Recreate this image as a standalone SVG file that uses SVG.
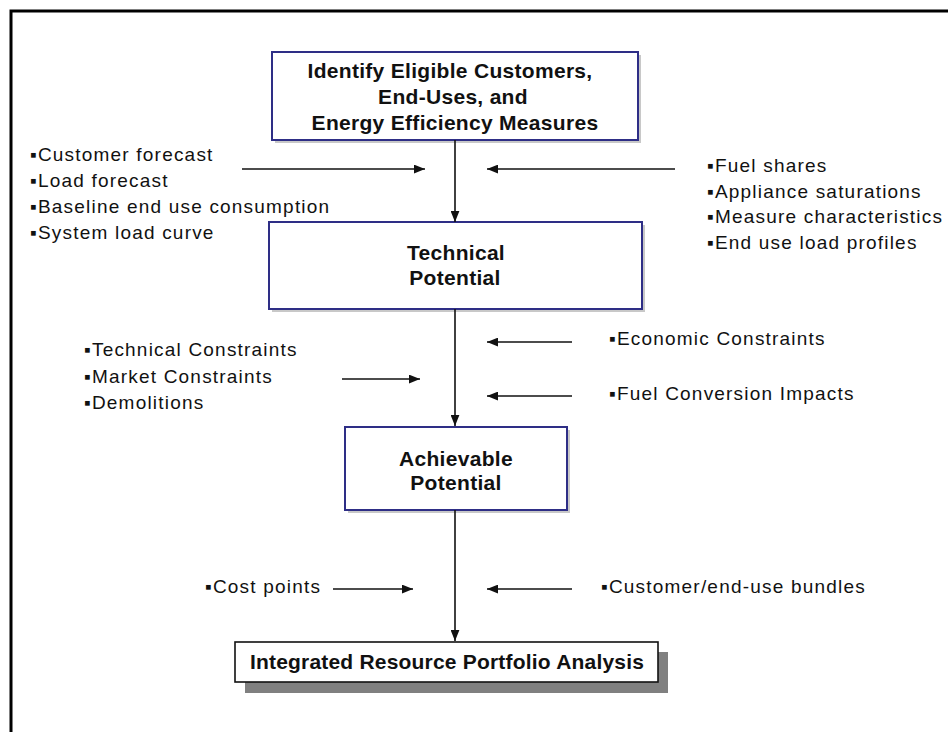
<svg xmlns="http://www.w3.org/2000/svg" width="948" height="732" viewBox="0 0 948 732">
<style>
.lbl{font-family:"Liberation Sans",Arial,sans-serif;font-size:19px;fill:#111;letter-spacing:1.2px}
.ttl{font-family:"Liberation Sans",Arial,sans-serif;font-size:21px;font-weight:bold;fill:#111;letter-spacing:0.3px;text-anchor:middle}
.box{fill:#fff;stroke:#2e2e86;stroke-width:2}
.shd{fill:#c8c8c8}
.con{stroke:#111;stroke-width:1.6;fill:none}
</style>
<defs>
<marker id="ah" viewBox="0 0 10 8" refX="10" refY="4" markerWidth="11" markerHeight="9" markerUnits="userSpaceOnUse" orient="auto">
<path d="M0,0 L10,4 L0,8 Z" fill="#111"/>
</marker>
</defs>
<rect width="948" height="732" fill="#fff"/>
<path d="M11,732 V11 H948" fill="none" stroke="#000" stroke-width="3"/>

<g id="n-identify">
<rect class="shd" x="275" y="55" width="366" height="88"/>
<rect class="box" x="272" y="52" width="366" height="88"/>
<text class="ttl" x="450" y="78">Identify Eligible Customers,</text>
<text class="ttl" x="453" y="104">End-Uses, and</text>
<text class="ttl" x="455" y="130">Energy Efficiency Measures</text>
</g>

<g id="n-technical">
<rect class="shd" x="272" y="225" width="373" height="87"/>
<rect class="box" x="269" y="222" width="373" height="87"/>
<text class="ttl" x="456" y="260">Technical</text>
<text class="ttl" x="455" y="285">Potential</text>
</g>

<g id="n-achievable">
<rect class="shd" x="348" y="430" width="222" height="83"/>
<rect class="box" x="345" y="427" width="222" height="83"/>
<text class="ttl" x="456" y="466">Achievable</text>
<text class="ttl" x="456" y="490">Potential</text>
</g>

<g id="n-irp">
<rect x="245" y="652" width="423" height="41" fill="#808080"/>
<rect x="235" y="642" width="423" height="40" fill="#fff" stroke="#111" stroke-width="1.6"/>
<text class="ttl" x="447" y="669" style="letter-spacing:0.2px">Integrated Resource Portfolio Analysis</text>
</g>

<g id="inputs-1-left">
<text class="lbl" x="30" y="161">▪Customer forecast</text>
<text class="lbl" x="30" y="187">▪Load forecast</text>
<text class="lbl" x="30" y="213">▪Baseline end use consumption</text>
<text class="lbl" x="30" y="239">▪System load curve</text>
</g>
<g id="inputs-1-right">
<text class="lbl" x="707" y="172">▪Fuel shares</text>
<text class="lbl" x="707" y="198">▪Appliance saturations</text>
<text class="lbl" x="707" y="223">▪Measure characteristics</text>
<text class="lbl" x="707" y="249">▪End use load profiles</text>
</g>
<g id="inputs-2-left">
<text class="lbl" x="84" y="356">▪Technical Constraints</text>
<text class="lbl" x="84" y="383">▪Market Constraints</text>
<text class="lbl" x="84" y="409">▪Demolitions</text>
</g>
<g id="inputs-2-right">
<text class="lbl" x="609" y="345">▪Economic Constraints</text>
<text class="lbl" x="609" y="400">▪Fuel Conversion Impacts</text>
</g>
<g id="inputs-3">
<text class="lbl" x="205" y="593">▪Cost points</text>
<text class="lbl" x="601" y="593">▪Customer/end-use bundles</text>
</g>

<g id="connectors">
<line class="con" x1="455" y1="140" x2="455" y2="222" marker-end="url(#ah)"/>
<line class="con" x1="455" y1="309" x2="455" y2="426" marker-end="url(#ah)"/>
<line class="con" x1="455" y1="510" x2="455" y2="641" marker-end="url(#ah)"/>
<line class="con" x1="242" y1="169" x2="425" y2="169" marker-end="url(#ah)"/>
<line class="con" x1="675" y1="169" x2="487" y2="169" marker-end="url(#ah)"/>
<line class="con" x1="342" y1="379" x2="420" y2="379" marker-end="url(#ah)"/>
<line class="con" x1="572" y1="342" x2="487" y2="342" marker-end="url(#ah)"/>
<line class="con" x1="572" y1="396" x2="487" y2="396" marker-end="url(#ah)"/>
<line class="con" x1="333" y1="589" x2="413" y2="589" marker-end="url(#ah)"/>
<line class="con" x1="572" y1="589" x2="487" y2="589" marker-end="url(#ah)"/>
</g>
</svg>
